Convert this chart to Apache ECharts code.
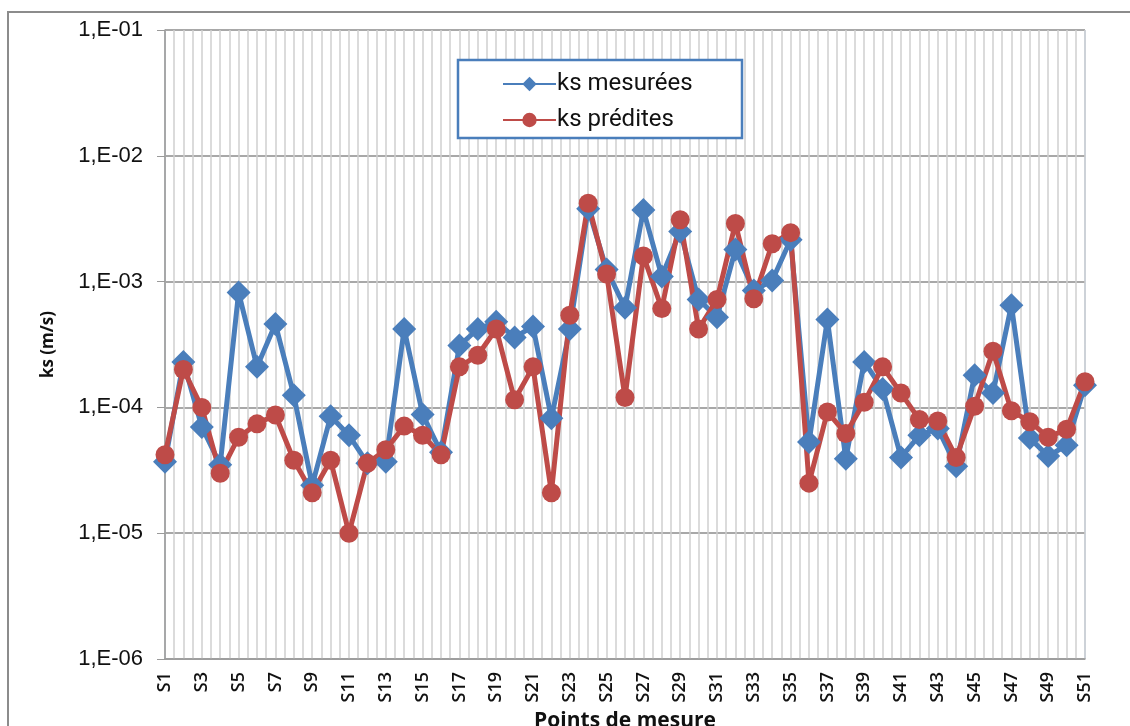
<!DOCTYPE html>
<html>
<head>
<meta charset="utf-8">
<script src="https://cdn.jsdelivr.net/npm/echarts@6/dist/echarts.min.js"></script>
<style>html,body{margin:0;padding:0;background:#fff}#c{width:1130px;height:726px}</style>
</head>
<body>
<div id="c"></div>
<script>
const categories = ['S1','S2','S3','S4','S5','S6','S7','S8','S9','S10','S11','S12','S13','S14','S15','S16','S17','S18','S19','S20','S21','S22','S23','S24','S25','S26','S27','S28','S29','S30','S31','S32','S33','S34','S35','S36','S37','S38','S39','S40','S41','S42','S43','S44','S45','S46','S47','S48','S49','S50','S51'];
const ksMesurees = [3.7e-5,2.3e-4,7.0e-5,3.5e-5,8.2e-4,2.1e-4,4.6e-4,1.25e-4,2.4e-5,8.5e-5,6.0e-5,3.6e-5,3.7e-5,4.2e-4,8.8e-5,4.4e-5,3.1e-4,4.2e-4,4.8e-4,3.6e-4,4.4e-4,8.2e-5,4.2e-4,3.8e-3,1.25e-3,6.2e-4,3.7e-3,1.1e-3,2.5e-3,7.2e-4,5.2e-4,1.8e-3,8.5e-4,1.02e-3,2.15e-3,5.3e-5,5.0e-4,3.9e-5,2.3e-4,1.4e-4,4.0e-5,6.0e-5,6.8e-5,3.4e-5,1.8e-4,1.3e-4,6.5e-4,5.7e-5,4.1e-5,5.0e-5,1.5e-4];
const ksPredites = [4.2e-5,2.0e-4,1.0e-4,3.0e-5,5.8e-5,7.4e-5,8.7e-5,3.8e-5,2.1e-5,3.8e-5,1.0e-5,3.6e-5,4.6e-5,7.1e-5,6.0e-5,4.2e-5,2.1e-4,2.6e-4,4.2e-4,1.15e-4,2.1e-4,2.1e-5,5.4e-4,4.2e-3,1.15e-3,1.2e-4,1.6e-3,6.1e-4,3.1e-3,4.2e-4,7.2e-4,2.9e-3,7.3e-4,2.0e-3,2.45e-3,2.5e-5,9.2e-5,6.2e-5,1.1e-4,2.1e-4,1.3e-4,8.0e-5,7.8e-5,4.0e-5,1.02e-4,2.8e-4,9.4e-5,7.7e-5,5.8e-5,6.7e-5,1.6e-4];
const yMin = 1e-6, yMax = 1e-1;

const chart = echarts.init(document.getElementById('c'));
const blue = '#4a7ebb', red = '#be4b48';
chart.setOption({
  animation: false,
  backgroundColor: '#fff',
  graphic: [
    {type:'rect', shape:{x:8,y:12,width:1125,height:720}, style:{fill:'none',stroke:'#8c8c8c',lineWidth:2}, silent:true, z:-1},
    {type:'rect', shape:{x:458,y:60,width:284,height:78}, style:{fill:'#fff',stroke:blue,lineWidth:2.5}, z:5}
  ],
  grid: {left:165, right:45, top:30, bottom:67, show:true, borderColor:'#8eb4e3', borderWidth:1, outerBoundsMode:'none', containLabel:false},
  legend: {
    left: 497, top: 67, orient:'vertical', itemGap: 12, itemWidth: 53, itemHeight: 18,
    z: 10,
    textStyle: {fontFamily:'Roboto', fontSize:24, color:'#111', padding:[0,0,0,-4]},
    data: ['ks mesurées','ks prédites']
  },
  xAxis: [
    {
      type:'category', data: categories, boundaryGap:false,
      axisLine:{show:true, lineStyle:{color:'#9a9a9a', width:1.5}},
      axisTick:{show:false},
      splitLine:{show:false},
      axisLabel:{interval:1, rotate:90, margin:13, color:'#111', fontFamily:'Open Sans', fontWeight:600, fontSize:18},
      name:'Points de mesure', nameLocation:'middle', nameGap:47,
      nameTextStyle:{fontFamily:'Open Sans', fontWeight:'bold', fontSize:21, color:'#111'}
    },
    {
      type:'value', min:0, max:100, interval:1, position:'top',
      axisLine:{show:false}, axisTick:{show:false}, axisLabel:{show:false},
      splitLine:{show:true, lineStyle:{color:'#cfcfcf', width:1.5}}
    }
  ],
  yAxis: {
    type:'log', logBase:10, min:yMin, max:yMax,
    axisLine:{show:true, lineStyle:{color:'#9a9a9a', width:1.5}},
    axisTick:{show:true, length:8, lineStyle:{color:'#9a9a9a'}},
    splitLine:{show:true, lineStyle:{color:'#a8a8a8', width:2}},
    axisLabel:{margin:22, color:'#111', fontFamily:'Liberation Sans', fontSize:22,
      formatter: v => { const e = Math.round(Math.log10(v)); return '1,E-' + String(-e).padStart(2,'0'); }},
    name:'ks (m/s)', nameLocation:'middle', nameGap:108,
    nameTextStyle:{fontFamily:'Open Sans', fontWeight:'bold', fontSize:17, color:'#111'}
  },
  series: [
    {name:'ks mesurées', type:'line', data: ksMesurees, xAxisIndex:0, showAllSymbol:true,
      symbol:'diamond', symbolSize:[24,24], color:blue,
      lineStyle:{color:blue, width:5}, itemStyle:{color:blue}},
    {name:'ks prédites', type:'line', data: ksPredites, xAxisIndex:0, showAllSymbol:true,
      symbol:'circle', symbolSize:19, color:red,
      lineStyle:{color:red, width:5}, itemStyle:{color:red}}
  ]
});
</script>
</body>
</html>
